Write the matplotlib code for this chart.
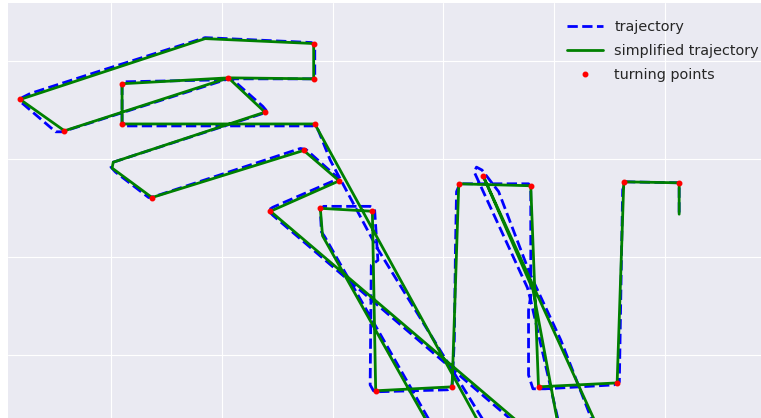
import matplotlib
matplotlib.use("Agg")
import matplotlib.pyplot as plt
from matplotlib.ticker import MultipleLocator

plt.style.use("seaborn-v0_8-darkgrid")
plt.rcParams["font.family"] = "DejaVu Sans"

# recorded trajectory (raw samples)
traj_x = [4.51, 4.35, 3.40, 2.98, 2.87, 2.83, 1.13, 1.10, 1.10, 1.13,
          2.01, 2.06, 2.81, 2.84, 2.84, 2.81, 1.85, 0.90, 0.27, 0.20,
          0.19, 0.50, 0.56, 2.06, 2.10, 2.37, 2.40, 2.38, 1.02, 1.00,
          1.04, 1.34, 1.39, 2.71, 2.76, 3.04, 3.05, 3.01, 2.46, 2.42,
          2.46, 4.96, 5.10, 4.79, 4.76, 4.28, 4.30, 4.35, 4.50, 4.78,
          5.06, 5.45, 4.03, 2.93, 2.90, 2.89, 2.92, 3.34, 3.38, 3.41,
          3.35, 3.34, 3.37, 3.41, 4.04, 4.08, 4.10, 4.11, 4.12, 4.15,
          4.77, 4.79, 4.79, 4.77, 4.77, 4.81, 4.92, 5.54, 5.59, 5.61,
          5.62, 5.65, 6.13, 6.13]
traj_y = [0.03, 0.36, 2.10, 2.99, 3.30, 3.34, 3.34, 3.38, 3.75, 3.79,
          3.81, 3.82, 3.82, 3.85, 4.16, 4.19, 4.24, 3.90, 3.67, 3.63,
          3.58, 3.28, 3.28, 3.82, 3.81, 3.54, 3.50, 3.47, 2.97, 2.92,
          2.87, 2.61, 2.62, 3.11, 3.10, 2.82, 2.78, 2.78, 2.51, 2.48,
          2.43, 0.01, 0.03, 1.56, 1.69, 2.87, 2.92, 2.89, 2.67, 1.84,
          1.16, 0.03, 0.03, 2.21, 2.26, 2.48, 2.52, 2.52, 2.49, 1.97,
          1.92, 0.70, 0.64, 0.63, 0.65, 0.70, 1.16, 2.07, 2.67, 2.75,
          2.75, 2.71, 1.61, 1.46, 0.80, 0.66, 0.66, 0.70, 0.73, 2.07,
          2.69, 2.77, 2.76, 2.44]

# simplified trajectory
simp_x = [4.46, 2.84, 1.10, 1.10, 2.06, 2.83, 2.83, 1.85, 0.18, 0.58,
          2.06, 2.39, 1.02, 1.01, 1.37, 2.74, 3.06, 2.44, 4.98, 5.08,
          4.81, 4.36, 5.49, 4.00, 2.91, 2.89, 3.36, 3.39, 4.08, 4.14,
          4.79, 4.86, 5.57, 5.63, 6.13, 6.13]
simp_y = [0.03, 3.36, 3.36, 3.77, 3.83, 3.82, 4.18, 4.23, 3.61, 3.29,
          3.83, 3.48, 2.97, 2.91, 2.61, 3.09, 2.78, 2.47, 0.03, 0.03,
          1.67, 2.83, 0.03, 0.03, 2.22, 2.50, 2.47, 0.64, 0.68, 2.75,
          2.73, 0.68, 0.72, 2.77, 2.76, 2.44]

# vertices of the simplified path flagged as turning points
turn_idx = [1, 2, 3, 4, 5, 6, 8, 9, 11, 14, 15, 16, 17, 21,
            25, 26, 27, 28, 29, 30, 31, 32, 33, 34]

turn_x = [simp_x[i] for i in turn_idx]
turn_y = [simp_y[i] for i in turn_idx]

fig = plt.figure(figsize=(7.61, 4.18), dpi=100)
ax = fig.add_axes([0.0105, -0.0287, 1.0013, 1.0208])

ax.plot(traj_x, traj_y, "b--", lw=2, label="trajectory")
ax.plot(simp_x, simp_y, "g-", lw=2, label="simplified trajectory")
ax.plot(turn_x, turn_y, "r.", ms=6.5, label="turning points")

ax.set_xlim(0.07, 6.95)
ax.set_ylim(0.24, 4.59)
ax.xaxis.set_major_locator(MultipleLocator(1))
ax.yaxis.set_major_locator(MultipleLocator(1))
ax.tick_params(labelbottom=False, labelleft=False)

ax.legend(loc="upper right", bbox_to_anchor=(1.0026, 0.992), fontsize=10.4,
          handlelength=2.5, handletextpad=0.8, labelspacing=0.7)

fig.savefig("out.png", dpi=100)
